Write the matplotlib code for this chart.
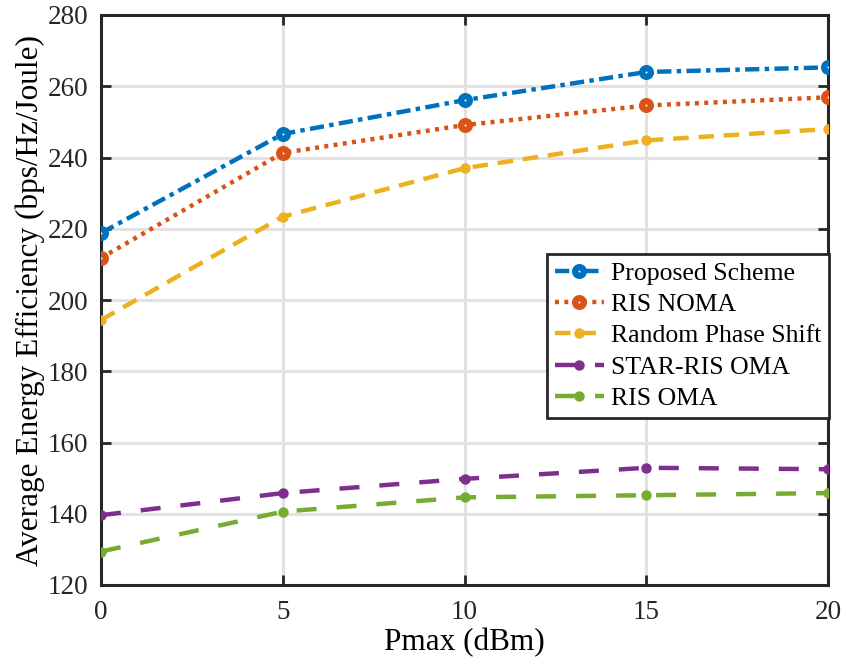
import matplotlib.pyplot as plt
import numpy as np

plt.rcParams['font.family'] = ['Liberation Serif', 'DejaVu Serif']

pmax = [0, 5, 10, 15, 20]
proposed = [218.8, 246.6, 256.1, 264.0, 265.3]
ris_noma = [211.8, 241.3, 249.1, 254.6, 256.9]
random_phase = [194.4, 223.4, 237.0, 244.8, 248.0]
star_ris_oma = [139.6, 145.8, 149.8, 152.9, 152.5]
ris_oma = [129.4, 140.6, 144.6, 145.2, 145.8]

c_blue = '#0072BD'
c_orange = '#D95319'
c_yellow = '#EDB120'
c_purple = '#7E2F8E'
c_green = '#77AC30'

fig = plt.figure(figsize=(8.46, 6.68), dpi=100)
ax = fig.add_axes([101/846, 1-585/668, 727/846, 570/668])

lw = 3.2
ax.plot(pmax, proposed, color=c_blue, lw=lw, ls=(0, (3.2, 1.2, 1, 1.2)),
        marker='o', ms=6.2, mfc='white', mec=c_blue, mew=4.6, label='Proposed Scheme', zorder=5)
ax.plot(pmax, ris_noma, color=c_orange, lw=lw, ls=(0, (0.9, 1.2)),
        marker='o', ms=6.2, mfc='white', mec=c_orange, mew=4.6, label='RIS NOMA', zorder=5)
ax.plot(pmax, random_phase, color=c_yellow, lw=lw, ls=(0, (3.5, 2.2)),
        marker='o', ms=6.5, mfc=c_yellow, mec=c_yellow, label='Random Phase Shift', zorder=4)
ax.plot(pmax, star_ris_oma, color=c_purple, lw=lw, ls=(0, (4.5, 4.5)),
        marker='o', ms=6.5, mfc=c_purple, mec=c_purple, label='STAR-RIS OMA', zorder=4)
ax.plot(pmax, ris_oma, color=c_green, lw=lw, ls=(0, (4.5, 4.5)),
        marker='o', ms=6.5, mfc=c_green, mec=c_green, label='RIS OMA', zorder=4)

ax.set_xlim(0, 20)
ax.set_ylim(120, 280)
ax.set_xticks([0, 5, 10, 15, 20])
ax.set_yticks(np.arange(120, 281, 20))
ax.grid(True, color='#e2e2e2', lw=2.2)
ax.set_axisbelow(True)
for s in ax.spines.values():
    s.set_linewidth(2.2)
    s.set_color('#262626')
ax.tick_params(labelsize=19.5, direction='in', width=2, length=7, colors='#262626',
               top=True, right=True)
ax.tick_params(axis='x', pad=11)
ax.tick_params(axis='y', pad=9)
ax.tick_params(axis='both', labelcolor='#262626')
ax.set_xlabel('Pmax (dBm)', fontsize=22.5, labelpad=2)
ax.set_ylabel('Average Energy Efficiency (bps/Hz/Joule)', fontsize=22.5, labelpad=2)

leg = ax.legend(loc='upper right', bbox_to_anchor=(1.002, 0.581), fontsize=18.5,
                frameon=True, fancybox=False, edgecolor='#262626', framealpha=1,
                handlelength=1.9, handletextpad=0.3, borderpad=0.3, labelspacing=0.33,
                borderaxespad=0)
leg.get_frame().set_linewidth(2)

fig.savefig('out.png', dpi=100)
